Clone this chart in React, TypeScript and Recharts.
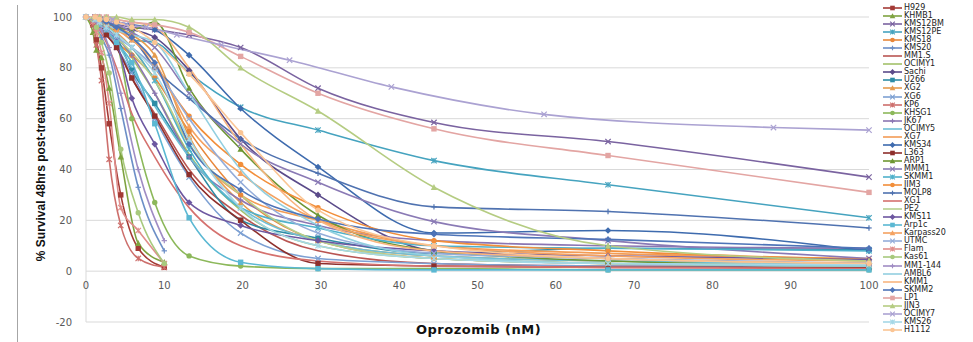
import { LineChart, Line, XAxis, YAxis, CartesianGrid } from "recharts";

// dilution series (nM)
const doseFull = [0, 1.16, 1.73, 2.6, 3.9, 5.85, 8.78, 13.17, 19.75, 29.63, 44.44, 66.67, 100];
const doseLow = [0, 0.88, 1.32, 1.98, 2.96, 4.44, 6.67, 10];
const doseOcimy7 = [0, 3.4, 5.1, 7.7, 11.6, 17.3, 26, 39, 58.5, 87.8, 100];

const xTicks = [0, 10, 20, 30, 40, 50, 60, 70, 80, 90, 100];
const yTicks = [-20, 0, 20, 40, 60, 80, 100];

// % survival per cell line
const h929 = [100, 97, 91, 80, 58, 30, 9, 1.5];
const khmb1 = [100, 94, 87, 84, 72, 45, 11, 3.5];
const kms12bm = [100, 100, 99, 98, 97, 96, 95, 93, 88, 72, 58.5, 51, 37];
const kms12pe = [100, 99, 98, 97, 96, 91, 90, 78, 64.5, 55.5, 43.5, 34, 21];
const kms18 = [100, 99, 97, 94, 90, 85, 76, 55, 30, 12, 5, 3, 2];
const kms20 = [100, 98, 96, 92, 85, 64, 33, 8];
const mm1s = [100, 98, 96, 93, 88, 76, 62, 40, 22, 8, 3, 2, 1.5];
const ocimy1 = [100, 100, 99, 97, 93, 84, 70, 46, 24, 10, 5, 3, 2];
const sachi = [100, 99, 98, 97, 96, 95, 92, 79, 52, 30, 8, 5, 3];
const u266 = [100, 99, 98, 96, 92, 79, 66, 45, 20, 13, 7, 9, 8.5];
const xg2 = [100, 100, 99, 98, 96, 93, 85, 53, 27, 12, 6, 4, 3];
const xg6 = [100, 99, 97, 94, 88, 78, 60, 37, 15, 5, 3, 2, 1.5];
const kp6 = [100, 97, 89, 75, 44, 18, 5, 1.5];
const khsg1 = [100, 99, 97, 95, 90, 60, 27, 6, 2, 1, 1, 0.5, 0.5];
const jk67 = [100, 99, 98, 96, 92, 85, 70, 45, 28, 18, 12, 10, 9];
const ocimy5 = [100, 99, 98, 95, 90, 80, 65, 45, 25, 12, 6, 4, 3];
const xg7 = [100, 99, 98, 97, 94, 88, 75, 50, 30, 20, 10, 7, 5];
const kms34 = [100, 100, 100, 99, 98, 97, 95, 85, 64, 41, 15, 16, 8];
const l363 = [100, 99, 97, 93, 88, 76, 61, 38, 20, 3, 2, 1.5, 1.5];
const arp1 = [100, 100, 99, 98, 96, 95, 98, 72, 48, 22, 8, 4, 2];
const mmm1 = [100, 100, 99, 98, 97, 94, 88, 70, 50, 35, 19.5, 12, 5];
const skmm1 = [100, 99, 98, 96, 93, 88, 75, 48, 25, 17, 10, 9, 8];
const jim3 = [100, 100, 99, 97, 95, 92, 80, 61, 42, 25, 12, 8, 4.5];
const molp8 = [100, 100, 99, 98, 96, 92, 80, 68, 52, 38.5, 25.3, 23.5, 17];
const xg1 = [100, 98, 95, 90, 80, 62, 45, 25, 10, 4, 2, 1.5, 1];
const pe2 = [100, 99, 98, 96, 92, 86, 75, 50, 30, 12, 5, 3, 2];
const kms11 = [100, 99, 98, 96, 90, 68, 50, 27, 18, 12, 8, 6, 4.5];
const arp1c = [100, 99, 97, 95, 90, 82, 58, 21, 3.5, 1, 0.5, 0.5, 0.5];
const karpass20 = [100, 99, 98, 97, 95, 91, 82, 57, 38.5, 20, 10, 6, 4];
const utmc = [100, 99, 97, 95, 92, 88, 80, 60, 35, 15, 7, 5, 3];
const flam = [100, 98, 94, 86, 66, 25, 16, 3];
const kas61 = [100, 99, 96, 90, 78, 48, 23, 3];
const mm1_144 = [100, 99, 98, 95, 88, 70, 40, 12];
const ambl6 = [100, 99, 98, 97, 95, 93, 90, 70, 40, 18, 6, 3, 2];
const kmm1 = [100, 100, 100, 100, 99, 98, 96, 80, 50, 20, 8, 5, 3];
const skmm2 = [100, 100, 99, 98, 96, 92, 82, 50, 32, 20.5, 14.5, 12.5, 9];
const lp1 = [100, 100, 100, 100, 99, 98, 97, 94, 84.5, 70, 56, 45.5, 31];
const jjn3 = [100, 100, 100, 100, 100, 99, 99, 96, 80, 63, 33, 10, 4];
const ocimy7 = [100, 99, 97, 96, 93, 89, 83, 72.5, 61.7, 56.5, 55.5];
const kms26 = [100, 99, 98, 96, 93, 88, 78, 52, 25, 10, 5, 3, 2.5];
const h1112 = [100, 100, 99, 99, 98, 96, 90, 77.5, 54.5, 24, 10, 5, 3];

const SERIES = [
  { name: "H929", dose: doseLow, values: h929 },
  { name: "KHMB1", dose: doseLow, values: khmb1 },
  { name: "KMS12BM", dose: doseFull, values: kms12bm },
  { name: "KMS12PE", dose: doseFull, values: kms12pe },
  { name: "KMS18", dose: doseFull, values: kms18 },
  { name: "KMS20", dose: doseLow, values: kms20 },
  { name: "MM1.S", dose: doseFull, values: mm1s },
  { name: "OCIMY1", dose: doseFull, values: ocimy1 },
  { name: "Sachi", dose: doseFull, values: sachi },
  { name: "U266", dose: doseFull, values: u266 },
  { name: "XG2", dose: doseFull, values: xg2 },
  { name: "XG6", dose: doseFull, values: xg6 },
  { name: "KP6", dose: doseLow, values: kp6 },
  { name: "KHSG1", dose: doseFull, values: khsg1 },
  { name: "JK67", dose: doseFull, values: jk67 },
  { name: "OCIMY5", dose: doseFull, values: ocimy5 },
  { name: "XG7", dose: doseFull, values: xg7 },
  { name: "KMS34", dose: doseFull, values: kms34 },
  { name: "L363", dose: doseFull, values: l363 },
  { name: "ARP1", dose: doseFull, values: arp1 },
  { name: "MMM1", dose: doseFull, values: mmm1 },
  { name: "SKMM1", dose: doseFull, values: skmm1 },
  { name: "JIM3", dose: doseFull, values: jim3 },
  { name: "MOLP8", dose: doseFull, values: molp8 },
  { name: "XG1", dose: doseFull, values: xg1 },
  { name: "PE2", dose: doseFull, values: pe2 },
  { name: "KMS11", dose: doseFull, values: kms11 },
  { name: "Arp1c", dose: doseFull, values: arp1c },
  { name: "Karpass20", dose: doseFull, values: karpass20 },
  { name: "UTMC", dose: doseFull, values: utmc },
  { name: "Flam", dose: doseLow, values: flam },
  { name: "Kas61", dose: doseLow, values: kas61 },
  { name: "MM1-144", dose: doseLow, values: mm1_144 },
  { name: "AMBL6", dose: doseFull, values: ambl6 },
  { name: "KMM1", dose: doseFull, values: kmm1 },
  { name: "SKMM2", dose: doseFull, values: skmm2 },
  { name: "LP1", dose: doseFull, values: lp1 },
  { name: "JJN3", dose: doseFull, values: jjn3 },
  { name: "OCIMY7", dose: doseOcimy7, values: ocimy7 },
  { name: "KMS26", dose: doseFull, values: kms26 },
  { name: "H1112", dose: doseFull, values: h1112 },
];

const COLORS = [
  "#A43B36", "#7FA340", "#7A63A0", "#45A3BF", "#E8873A", "#6C8FC7",
  "#B95552", "#A3C16A", "#5B4B8A", "#2E8CA6", "#E59B4F", "#7DA0D3",
  "#CD6F6C", "#8CB85A", "#8B76B2", "#6FBFD6", "#F39C55", "#3E6BAE",
  "#8E2F2B", "#6E9633", "#8A7AB5", "#4FB1CB", "#F28E3A", "#4F72B0",
  "#D5716E", "#B6D08E", "#6D57A0", "#5BB8D3", "#F4A261", "#94ADDA",
  "#E08E8B", "#A8C97D", "#A08DC4", "#92CFE0", "#F8B57F", "#4E74B8",
  "#E3A5A3", "#B5CC82", "#ABA2D2", "#A5D8E6", "#FBC594",
];
const MARKERS = ["square", "triangle", "x", "star", "circle", "plus", "none", "none", "diamond"];

const W = 973;
const H = 342;
const TOP = 17;
const LEFT = 86;
const RIGHT = 869;
const PLOT_BOTTOM = 322;
const ZERO_Y = TOP + ((PLOT_BOTTOM - TOP) * 100) / 120;

const Marker = ({ kind, cx, cy, color, s = 2.7 }: any) => {
  if (cx == null || cy == null) return <g />;
  switch (kind) {
    case "square":
      return <rect x={cx - s} y={cy - s} width={s * 2} height={s * 2} fill={color} />;
    case "triangle":
      return <polygon points={`${cx},${cy - s - 0.5} ${cx + s + 0.5},${cy + s} ${cx - s - 0.5},${cy + s}`} fill={color} />;
    case "x":
      return (
        <g stroke={color} strokeWidth={1.2}>
          <line x1={cx - s} y1={cy - s} x2={cx + s} y2={cy + s} />
          <line x1={cx - s} y1={cy + s} x2={cx + s} y2={cy - s} />
        </g>
      );
    case "star":
      return (
        <g stroke={color} strokeWidth={1.2}>
          <line x1={cx - s} y1={cy - s} x2={cx + s} y2={cy + s} />
          <line x1={cx - s} y1={cy + s} x2={cx + s} y2={cy - s} />
          <line x1={cx} y1={cy - s} x2={cx} y2={cy + s} />
        </g>
      );
    case "circle":
      return <circle cx={cx} cy={cy} r={s} fill={color} />;
    case "plus":
      return (
        <g stroke={color} strokeWidth={1.2}>
          <line x1={cx} y1={cy - s} x2={cx} y2={cy + s} />
          <line x1={cx - s} y1={cy} x2={cx + s} y2={cy} />
        </g>
      );
    case "diamond":
      return <polygon points={`${cx},${cy - s - 0.6} ${cx + s + 0.6},${cy} ${cx},${cy + s + 0.6} ${cx - s - 0.6},${cy}`} fill={color} />;
    default:
      return <g />;
  }
};

const XTick = ({ x, payload }: any) => (
  <text x={x} y={ZERO_Y + 17.5} textAnchor="middle" fontSize={10} fontFamily="DejaVu Sans" fill="#595959">
    {payload.value}
  </text>
);

const App = () => {
  return (
    <div style={{ position: "absolute", left: 0, top: 0, width: W, height: H, background: "#fff" }}>
      <LineChart width={W} height={H} margin={{ top: TOP, right: W - RIGHT, bottom: 0, left: 0 }}>
        <CartesianGrid stroke="#D9D9D9" vertical={false} />
        <XAxis
          dataKey="x"
          type="number"
          domain={[0, 100]}
          ticks={xTicks}
          axisLine={false}
          tickLine={false}
          height={H - PLOT_BOTTOM}
          tick={<XTick />}
          allowDuplicatedCategory={false}
        />
        <YAxis
          type="number"
          domain={[-20, 100]}
          ticks={yTicks}
          width={LEFT}
          axisLine={{ stroke: "#D9D9D9" }}
          tickLine={false}
          tickMargin={8}
          tick={{ fontSize: 10, fontFamily: "DejaVu Sans", fill: "#595959" }}
          label={{
            content: () => {
              const cx = 45;
              const cy = (TOP + PLOT_BOTTOM) / 2;
              return (
                <text
                  x={cx}
                  y={cy}
                  transform={`rotate(-90 ${cx} ${cy})`}
                  textAnchor="middle"
                  fontSize={12}
                  fontWeight="bold"
                  fontFamily="Liberation Sans"
                  fill="#111"
                >
                  % Survival 48hrs post-treatment
                </text>
              );
            },
          }}
        />
        {SERIES.map((s, i) => {
          const color = COLORS[i];
          const kind = MARKERS[i % MARKERS.length];
          return (
            <Line
              key={s.name}
              name={s.name}
              data={s.dose.map((d, j) => ({ x: d, y: s.values[j] }))}
              dataKey="y"
              type="monotone"
              stroke={color}
              strokeWidth={1.6}
              dot={(p: any) => <Marker key={`${s.name}-${p.index}`} kind={kind} cx={p.cx} cy={p.cy} color={color} />}
              activeDot={false}
              isAnimationActive={false}
            />
          );
        })}
      </LineChart>
      <div
        style={{
          position: "absolute",
          left: 416,
          top: 323,
          whiteSpace: "nowrap",
          fontFamily: "DejaVu Sans",
          fontWeight: "bold",
          fontSize: 13,
          lineHeight: "14px",
          letterSpacing: 0.5,
          color: "#111",
        }}
      >
        Oprozomib (nM)
      </div>
      <div style={{ position: "absolute", left: 17, top: 5, width: 1, height: H - 5, background: "#A6A6A6", zIndex: 2 }} />
      <div style={{ position: "absolute", left: 883, top: 4 }}>
        {SERIES.map((s, i) => (
          <div key={s.name} style={{ display: "flex", alignItems: "center", height: 8.05 }}>
            <svg width={20} height={8} style={{ flex: "none" }}>
              <line x1={0} y1={4} x2={19} y2={4} stroke={COLORS[i]} strokeWidth={1.6} />
              <Marker kind={MARKERS[i % MARKERS.length]} cx={9.5} cy={4} color={COLORS[i]} s={2.3} />
            </svg>
            <span style={{ fontFamily: "DejaVu Sans", fontSize: 8, lineHeight: "8px", color: "#222", marginLeft: 1, whiteSpace: "nowrap" }}>
              {s.name}
            </span>
          </div>
        ))}
      </div>
    </div>
  );
};

export default App;
